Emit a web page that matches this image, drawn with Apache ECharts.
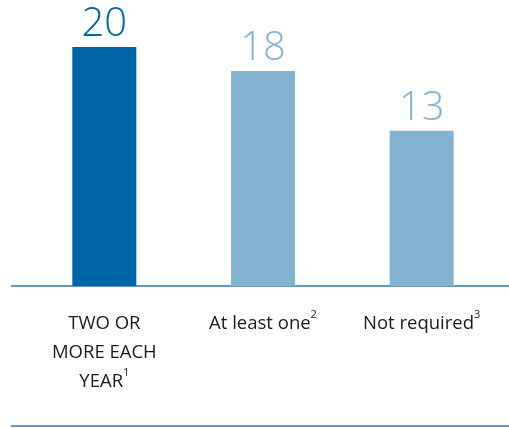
<!DOCTYPE html>
<html><head><meta charset="utf-8">
<script src="https://cdn.jsdelivr.net/npm/echarts@6/dist/echarts.min.js"></script>
<style>html,body{margin:0;padding:0;background:#fff}#c{width:509px;height:428px}</style>
</head><body><div id="c"></div>
<script>
const categories = ["TWO OR\nMORE EACH\nYEAR", "At least one", "Not required"];
const footnotes = ["1", "2", "3"];
const values = [20, 18, 13];
const barColors = ["#0065A4", "#82B3D3", "#82B3D3"];

const chart = echarts.init(document.getElementById('c'));
chart.setOption({
  animation: false,
  grid: { left: 25, right: 8, top: 47, bottom: 142, containLabel: false },
  xAxis: {
    type: 'category',
    data: categories.map((c, i) => c + '{s|' + footnotes[i] + '}'),
    axisLine: { show: false },
    axisTick: { show: false },
    axisLabel: {
      margin: 23,
      interval: 0,
      color: '#1a1a1a',
      fontFamily: 'Open Sans',
      fontSize: 18.5,
      lineHeight: 29,
      align: 'center',
      verticalAlign: 'top',
      rich: { s: { fontSize: 11, verticalAlign: 'top', lineHeight: 29, padding: [0, 0, 12, 0], color: '#1a1a1a', fontFamily: 'Open Sans' } }
    }
  },
  yAxis: { type: 'value', min: 0, max: 20, show: false, splitLine: { show: false } },
  series: [{
    type: 'bar',
    barWidth: 64,
    data: values.map((v, i) => ({ value: v, itemStyle: { color: barColors[i] }, label: { color: barColors[i] } })),
    label: { show: true, position: 'top', distance: 2, fontSize: 40, fontFamily: 'Open Sans', fontWeight: 300 }
  }],
  graphic: [
    { type: 'line', shape: { x1: 11, y1: 286, x2: 509, y2: 286 }, style: { stroke: '#2F75B0', lineWidth: 1.5 } },
    { type: 'line', shape: { x1: 11, y1: 426, x2: 509, y2: 426 }, style: { stroke: '#2F75B0', lineWidth: 1.5 } }
  ]
});
</script></body></html>
